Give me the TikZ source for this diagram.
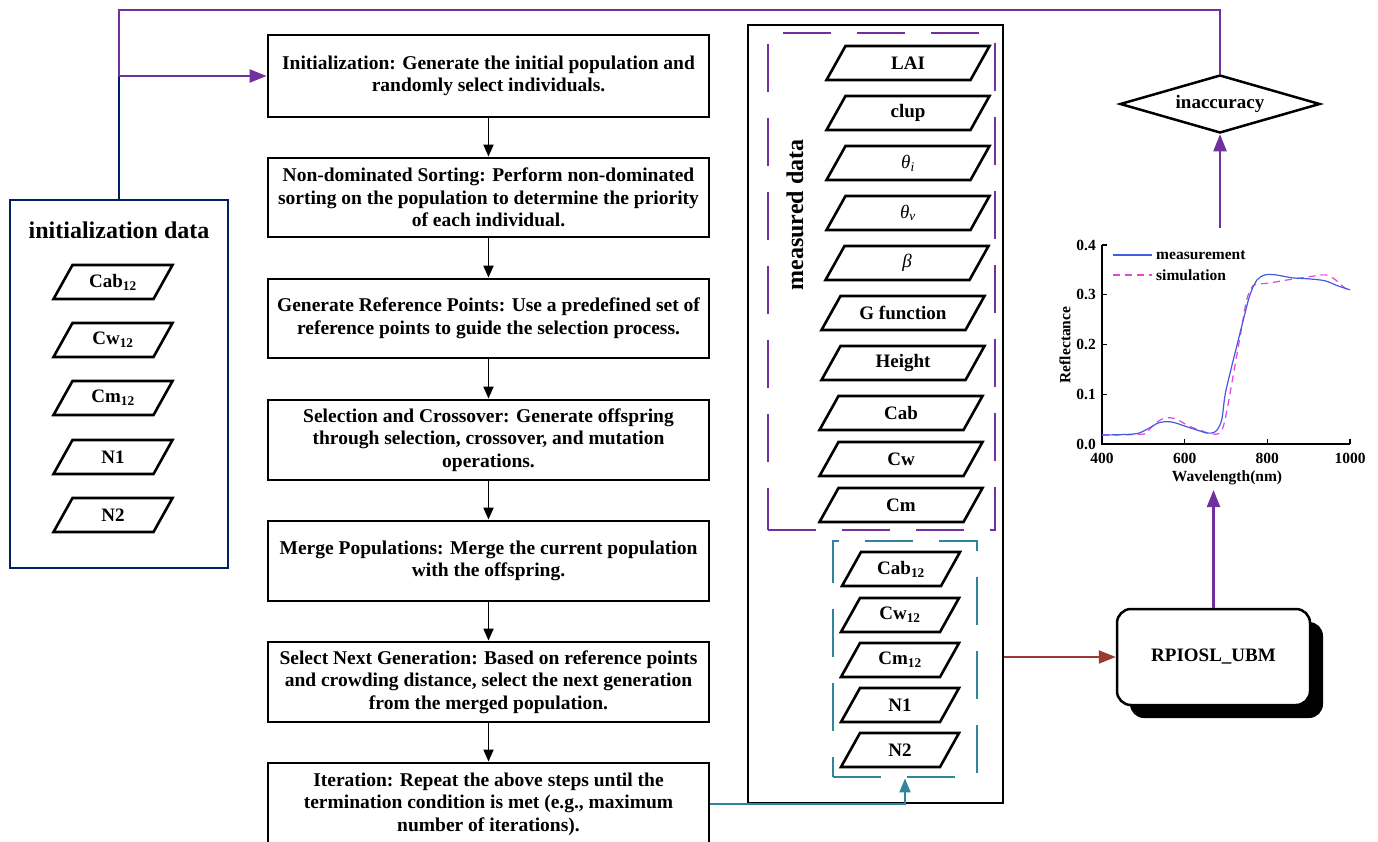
\documentclass[tikz,border=0pt]{standalone}
\usepackage{fontspec}
\setmainfont{Liberation Serif}
\usetikzlibrary{arrows.meta,shapes.geometric,shadows,calc}
\definecolor{pur}{RGB}{112,48,160}
\definecolor{navyc}{RGB}{0,32,96}
\definecolor{tealc}{RGB}{49,133,155}
\definecolor{redc}{RGB}{155,58,52}
\definecolor{measc}{RGB}{70,90,225}
\definecolor{simc}{RGB}{225,70,225}
\newcommand{\thsub}[1]{{\mdseries\itshape θ\textsubscript{#1}}}
% parallelogram: name, x, y, width, text
\newcommand{\pgm}[5]{%
  \node[ptext] (#1) at (#2,#3) {#5};
  \draw[pline] ($(#1.center)+({-#4/2},17)$) -- ($(#1.center)+({#4/2-19},17)$) --
     ($(#1.center)+({#4/2},-17)$) -- ($(#1.center)+({-#4/2+19},-17)$) -- cycle;}
\begin{document}
\begin{tikzpicture}[x=1pt,y=-1pt,
  stepbox/.style={draw, line width=2.8pt, minimum width=441pt, minimum height=80pt, align=center, inner xsep=3pt,
    font=\fontsize{19.5}{22.5}\selectfont\bfseries},
  ptext/.style={inner sep=0pt, font=\fontsize{19}{22}\selectfont\bfseries},
  pline/.style={line width=2.6pt, line join=miter},
  flowarrow/.style={line width=1.8pt, -{Triangle[length=12pt,width=10pt]}},
  purarrow/.style={pur, line width=2.2pt, -{Triangle[length=17pt,width=13pt]}},
  dashpur/.style={draw=pur, line width=2.8pt, dash pattern=on 48pt off 26pt},
  dashteal/.style={draw=tealc, line width=2.8pt, dash pattern=on 48pt off 26pt},
  ticklab/.style={font=\fontsize{15.5}{17}\selectfont\bfseries, inner sep=1pt},
]
\fill[white] (0,0) rectangle (1378,841);
\clip (0,0) rectangle (1378,841);

% ---------- flow chart ----------
\node[stepbox, minimum height=82pt] (b1) at (488.5,76) {Initialization: Generate the initial population and\\ randomly select individuals.};
\node[stepbox, minimum height=79pt] (b2) at (488.5,197.5) {Non-dominated Sorting: Perform non-dominated\\ sorting on the population to determine the priority\\ of each individual.};
\node[stepbox, minimum height=79pt] (b3) at (488.5,318.5) {Generate Reference Points: Use a predefined set of\\ reference points to guide the selection process.};
\node[stepbox] (b4) at (488.5,440) {Selection and Crossover: Generate offspring\\ through selection, crossover, and mutation\\ operations.};
\node[stepbox] (b5) at (488.5,561) {Merge Populations: Merge the current population\\ with the offspring.};
\node[stepbox] (b6) at (488.5,682) {Select Next Generation: Based on reference points\\ and crowding distance, select the next generation\\ from the merged population.};
\node[stepbox, minimum height=82pt] (b7) at (488.5,804) {Iteration: Repeat the above steps until the\\ termination condition is met (e.g., maximum\\ number of iterations).};
\foreach \a/\b in {b1/b2,b2/b3,b3/b4,b4/b5,b5/b6,b6/b7}
  \draw[flowarrow] (\a.south) -- (\b.north);

% ---------- initialization data ----------
\node[draw=navyc, line width=2.5pt, minimum width=218pt, minimum height=368pt] (initbox) at (119,384) {};
\node[font=\fontsize{24}{26}\selectfont\bfseries] (inittitle) at (119,230) {initialization data};
\pgm{i1}{113}{282}{119}{Cab\textsubscript{12}}
\pgm{i2}{113}{340}{119}{Cw\textsubscript{12}}
\pgm{i3}{113}{398}{119}{Cm\textsubscript{12}}
\pgm{i4}{113}{457}{119}{N1}
\pgm{i5}{113}{515}{119}{N2}

% ---------- measured data ----------
\node[draw, line width=2.5pt, minimum width=255pt, minimum height=778pt] (mbox) at (875.5,414) {};
\node[dashpur, minimum width=227pt, minimum height=497pt] (pbox) at (881.5,281.5) {};
\node[dashteal, minimum width=144pt, minimum height=236pt] (tbox) at (905,659) {};
\node[rotate=90, font=\fontsize{24}{26}\selectfont\bfseries] (mdlabel) at (795,215) {measured data};
\pgm{m1}{908}{63}{163}{LAI}
\pgm{m2}{908}{113}{163}{clup}
\pgm{m3}{908}{163}{163}{\thsub{i}}
\pgm{m4}{908}{213}{163}{\thsub{v}}
\pgm{m5}{907}{263}{163}{{\mdseries\itshape β}}
\pgm{m6}{903}{313}{163}{G function}
\pgm{m7}{903}{363}{163}{Height}
\pgm{m8}{901}{413}{163}{Cab}
\pgm{m9}{901}{459}{163}{Cw}
\pgm{m10}{901}{505}{163}{Cm}
\pgm{t1}{901}{569}{118}{Cab\textsubscript{12}}
\pgm{t2}{900}{615}{118}{Cw\textsubscript{12}}
\pgm{t3}{900}{660}{118}{Cm\textsubscript{12}}
\pgm{t4}{900}{705}{118}{N1}
\pgm{t5}{900}{750}{118}{N2}

% ---------- model, diamond ----------
\node[draw, line width=2.5pt, rounded corners=14pt, fill=white, minimum width=193pt, minimum height=96pt,
  font=\fontsize{19}{22}\selectfont\bfseries,
  drop shadow={shadow xshift=13pt, shadow yshift=-13pt, opacity=1, fill=black, rounded corners=14pt}] (rp) at (1213.5,657) {RPIOSL\_UBM};
\node[diamond, draw, line width=2.5pt, aspect=3.4, minimum width=200pt, minimum height=58pt, inner sep=0pt,
  font=\fontsize{19}{22}\selectfont\bfseries] (dia) at (1220,104) {inaccuracy};

% ---------- chart ----------
\draw[line width=1.4pt] (1102,245) -- (1102,444) -- (1350,444);
\foreach \yy in {245,294.75,344.5,394.25,444} \draw[line width=1.2pt] (1102,\yy) -- (1107,\yy);
\foreach \xx in {1102,1184.67,1267.33,1350} \draw[line width=1.2pt] (\xx,444) -- (\xx,439);
\node[ticklab, anchor=east] (y0) at (1097,444) {0.0};
\node[ticklab, anchor=east] (y1) at (1097,394.25) {0.1};
\node[ticklab, anchor=east] (y2) at (1097,344.5) {0.2};
\node[ticklab, anchor=east] (y3) at (1097,294.75) {0.3};
\node[ticklab, anchor=east] (y4) at (1097,245) {0.4};
\node[ticklab] (x0) at (1102,458) {400};
\node[ticklab] (x1) at (1184.67,458) {600};
\node[ticklab] (x2) at (1267.33,458) {800};
\node[ticklab] (x3) at (1350,458) {1000};
\node[ticklab] (xlab) at (1227,478) {Wavelength(nm)};
\node[ticklab, rotate=90] (ylab) at (1065,345) {Reflectance};
\node[ticklab, anchor=west] (leg1) at (1155,255) {measurement};
\node[ticklab, anchor=west] (leg2) at (1155,275) {simulation};
\draw[measc, line width=1.2pt] ($(leg1.west)+(-42,0)$) -- ($(leg1.west)+(-3,0)$);
\draw[simc, line width=1.2pt, dash pattern=on 7pt off 5pt] ($(leg2.west)+(-42,0)$) -- ($(leg2.west)+(-3,0)$);
\begin{scope}[shift={(1102,444)}, x=0.41333pt, y=497.5pt]
\draw[simc, line width=1.2pt, dash pattern=on 7pt off 5pt] plot[smooth, tension=0.5] coordinates {(0,0.018) (100,0.02) (115,0.03) (140,0.048) (165,0.053) (185,0.048) (210,0.036) (240,0.027) (265,0.02) (285,0.022) (295,0.04) (305,0.08) (320,0.15) (335,0.22) (350,0.29) (365,0.318) (380,0.322) (400,0.323) (450,0.33) (500,0.336) (540,0.34) (565,0.33) (590,0.312) (600,0.313)};
\draw[measc, line width=1.2pt] plot[smooth, tension=0.5] coordinates {(0,0.018) (50,0.019) (85,0.021) (110,0.03) (135,0.042) (157,0.045) (175,0.043) (200,0.036) (230,0.028) (254,0.022) (270,0.023) (280,0.03) (290,0.05) (298,0.1) (312,0.15) (327,0.2) (342,0.25) (358,0.3) (375,0.33) (395,0.34) (420,0.34) (460,0.334) (500,0.332) (540,0.328) (570,0.318) (600,0.31)};
\end{scope}
\coordinate (chartbot) at (1213.5,490);
\coordinate (charttop) at (1220,228);

% ---------- connectors ----------
\coordinate (j) at (initbox.north |- b1.west);
\draw[navyc, line width=2.2pt] (initbox.north) -- (j);
\draw[pur, line width=2.2pt] (dia.north) -- ++(0,-64) -| (j);
\draw[purarrow] (j) -- (b1.west);
\draw[purarrow] (charttop) -- (dia.south);
\draw[purarrow] (rp.north) -- (chartbot);
\draw[redc, line width=2.2pt, -{Triangle[length=17pt,width=13pt]}] (mbox.east |- rp.west) -- (rp.west);
\draw[tealc, line width=2pt, -{Triangle[length=14pt,width=11pt]}] (b7.east) -| (tbox.south);
\end{tikzpicture}
\end{document}
